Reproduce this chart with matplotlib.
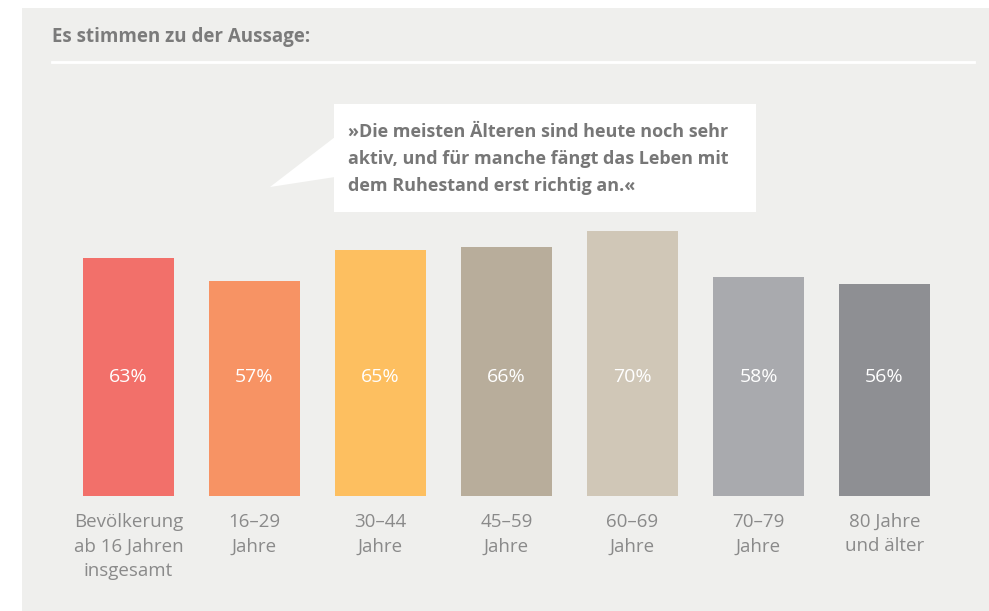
import matplotlib
matplotlib.use("Agg")
import matplotlib.pyplot as plt
from matplotlib.patches import Rectangle, Polygon

categories = ["Bevölkerung\nab 16 Jahren\ninsgesamt", "16–29\nJahre", "30–44\nJahre",
              "45–59\nJahre", "60–69\nJahre", "70–79\nJahre", "80 Jahre\nund älter"]
values = [63, 57, 65, 66, 70, 58, 56]
colors = ["#f2706a", "#f79364", "#fdbf60", "#b8ad9b", "#d0c7b7", "#a9aaae", "#8e8f93"]
title = "Es stimmen zu der Aussage:"
quote = "»Die meisten Älteren sind heute noch sehr\naktiv, und für manche fängt das Leben mit\ndem Ruhestand erst richtig an.«"

W, H = 989, 611
plt.rcParams['font.family'] = ['Open Sans', 'DejaVu Sans']
fig = plt.figure(figsize=(W / 100, H / 100), dpi=100, facecolor="white")

def fx(px):
    return px / W

def fy(py):
    return 1 - py / H

bg = "#efefed"
fig.patches.append(Rectangle((fx(22), fy(611)), fx(989) - fx(22), fy(8) - fy(611),
                             transform=fig.transFigure, facecolor=bg, edgecolor="none", zorder=-2))
fig.text(fx(52), fy(37), title, fontsize=13.5, fontweight="bold", color="#7b7b7b",
         ha="left", va="center")
fig.add_artist(plt.Line2D([fx(52), fx(974)], [fy(62), fy(62)], transform=fig.transFigure,
                          color="white", lw=2, zorder=-1))

# speech bubble
fig.patches.append(Rectangle((fx(334), fy(212)), fx(756) - fx(334), fy(104) - fy(212),
                             transform=fig.transFigure, facecolor="white", edgecolor="none", zorder=-1))
fig.patches.append(Polygon([(fx(335), fy(137)), (fx(270), fy(187)), (fx(335), fy(177))],
                           closed=True, transform=fig.transFigure, facecolor="white",
                           edgecolor="none", zorder=-1))
fig.text(fx(348), fy(159), quote, fontsize=13, fontweight="bold", color="#777777",
         ha="left", va="center", linespacing=1.64, zorder=3)

# bar axes
step = 126
x0_center = 128.5
left_px = x0_center - step / 2
width_px = 7 * step
base_py = 496
top_py = base_py - 378
ax = fig.add_axes([fx(left_px), fy(base_py), width_px / W, (base_py - top_py) / H])
ax.set_zorder(2)
ax.patch.set_visible(False)
xs = list(range(len(values)))
ax.bar(xs, values, width=91 / step, color=colors, edgecolor="none")
ax.set_xlim(-0.5, 6.5)
ax.set_ylim(0, 100)
ax.axis("off")

for x, v in zip(xs, values):
    ax.annotate(f"{v}%", xy=(x, 0), xycoords="data", xytext=(0, 496 - 377),
                textcoords="offset pixels", ha="center", va="center",
                fontsize=14, color="white", annotation_clip=False)
    ax.annotate(categories[x], xy=(x, 0), xycoords="data", xytext=(0, -17),
                textcoords="offset pixels", ha="center", va="top",
                fontsize=13.5, color="#8a8a8a", linespacing=1.45, multialignment="center",
                annotation_clip=False)

fig.savefig("out.png", dpi=100, facecolor="white")
